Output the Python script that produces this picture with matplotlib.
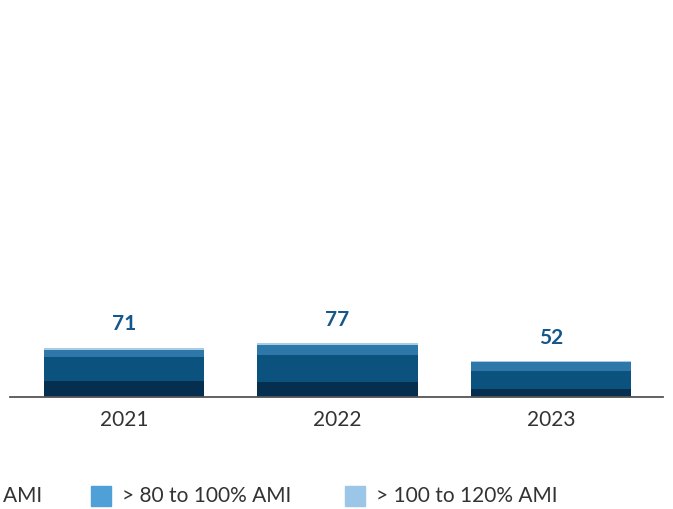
import matplotlib
matplotlib.use("Agg")
import matplotlib.pyplot as plt
from matplotlib.patches import Rectangle
import numpy as np

years = ["2021", "2022", "2023"]
seg_le50 = [23, 21, 12]
seg_50_80 = [35, 39, 26]
seg_80_100 = [10, 14, 12]
seg_100_120 = [3, 3, 2.4]
totals = [71, 77, 52]

series_labels = ["\u2264 50% AMI", "> 50 to 80% AMI", "> 80 to 100% AMI", "> 100 to 120% AMI"]
bar_colors = ["#062f4f", "#0b527e", "#2e78a9", "#a9cbe6"]
legend_colors = ["#062f4f", "#0b527e", "#50a0d8", "#9bc6e8"]

plt.rcParams['font.family'] = ['Lato', 'DejaVu Sans']

W, H = 673, 509
fig = plt.figure(figsize=(W / 100, H / 100), dpi=100)
ax = fig.add_axes([10 / W, 112 / H, 653 / W, 383 / H])

x = np.arange(len(years))
bottom = np.zeros(len(years))
for vals, col in zip([seg_le50, seg_50_80, seg_80_100, seg_100_120], bar_colors):
    ax.bar(x, vals, width=0.75, bottom=bottom, color=col, linewidth=0)
    bottom += np.array(vals)

for xi, t in zip(x, totals):
    ax.text(xi, t + 19, str(t), ha='center', va='bottom', fontsize=15,
            fontweight='bold', color='#14578a')

ax.set_xlim(-0.534, 2.525)
ax.set_ylim(0, 550)
ax.set_xticks(x)
ax.set_xticklabels(years, fontsize=15, color='#333333')
ax.tick_params(axis='x', length=0, pad=9)
ax.set_yticks([])
for s in ['top', 'right', 'left']:
    ax.spines[s].set_visible(False)
ax.spines['bottom'].set_color('#555555')
ax.spines['bottom'].set_linewidth(1.3)

# legend (manual layout, partly off canvas like the reference)
ly = 1 - 496 / H
fig.canvas.draw()
renderer = fig.canvas.get_renderer()

def add_item(sq_x_px, label, color):
    fig.patches.append(Rectangle((sq_x_px / W, ly - 10 / H), 20 / W, 20 / H,
                                 transform=fig.transFigure, color=color, figure=fig))
    fig.text((sq_x_px + 31) / W, ly, label, ha='left', va='center', fontsize=15,
             color='#333333')

add_item(91, series_labels[2], legend_colors[2])
add_item(345, series_labels[3], legend_colors[3])
# second item: text ends at x=42 px
t2 = fig.text(42 / W, ly, series_labels[1], ha='right', va='center', fontsize=15,
              color='#333333')
bb = t2.get_window_extent(renderer)
sq2 = bb.x0 - 31
fig.patches.append(Rectangle((sq2 / W, ly - 10 / H), 20 / W, 20 / H,
                             transform=fig.transFigure, color=legend_colors[1], figure=fig))
t1 = fig.text((sq2 - 49) / W, ly, series_labels[0], ha='right', va='center', fontsize=15,
              color='#333333')
bb1 = t1.get_window_extent(renderer)
fig.patches.append(Rectangle(((bb1.x0 - 31) / W, ly - 10 / H), 20 / W, 20 / H,
                             transform=fig.transFigure, color=legend_colors[0], figure=fig))

fig.savefig("out.png", dpi=100)
